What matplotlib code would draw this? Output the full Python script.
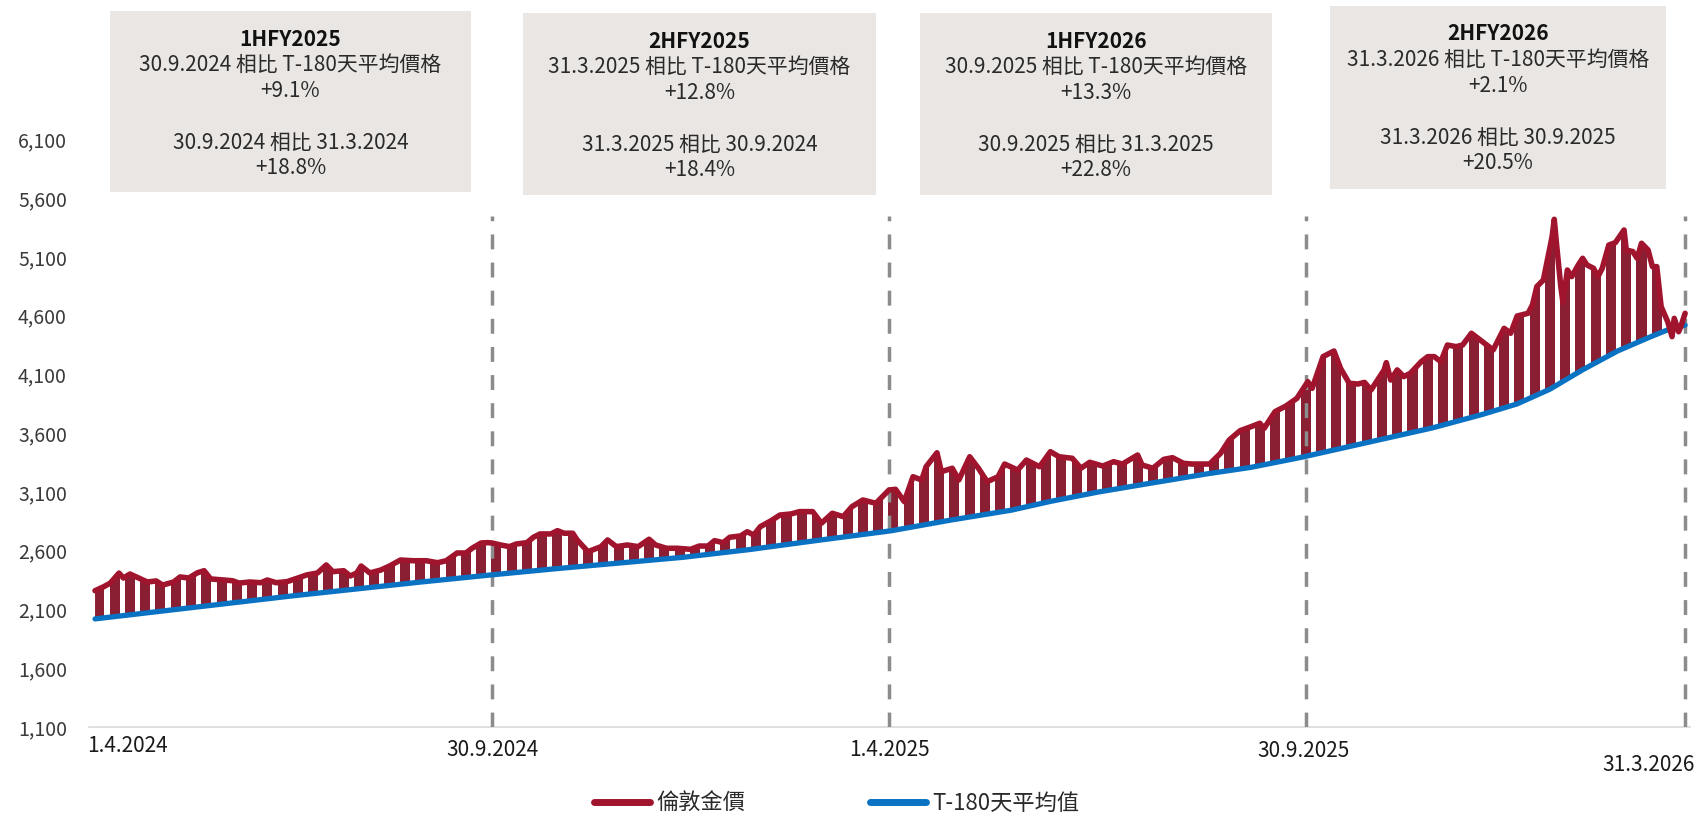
import numpy as np
import matplotlib
matplotlib.use("Agg")
import matplotlib.pyplot as plt
from matplotlib.patches import Rectangle
from matplotlib.lines import Line2D

plt.rcParams['font.family'] = ['Noto Sans CJK TC', 'DejaVu Sans']

# days counted from 1.4.2024
gold_days = [0, 4, 7, 11, 13, 16, 20, 24, 28, 31,
             36, 39, 43, 47, 50, 53, 59, 63, 66, 71,
             76, 79, 83, 88, 93, 97, 102, 106, 109, 114,
             117, 120, 122, 126, 131, 135, 140, 146, 152, 157,
             161, 166, 170, 173, 177, 180, 182, 186, 190, 193,
             198, 201, 204, 209, 212, 215, 219, 221, 226, 232,
             235, 239, 244, 249, 254, 257, 262, 267, 273, 277,
             281, 284, 288, 291, 296, 299, 302, 305, 310, 314,
             319, 323, 329, 333, 338, 343, 347, 352, 358, 364,
             367, 371, 375, 379, 381, 386, 388, 393, 396, 401,
             405, 409, 414, 417, 423, 427, 433, 438, 442, 448,
             452, 456, 462, 467, 471, 478, 480, 485, 490, 494,
             499, 503, 508, 511, 516, 520, 525, 530, 534, 536,
             541, 546, 551, 556, 558, 563, 568, 571, 575, 579,
             582, 585, 591, 592, 594, 597, 600, 603, 608, 611,
             614, 617, 620, 624, 627, 631, 635, 639, 641, 646,
             649, 652, 657, 659, 661, 664, 666, 668, 669, 670,
             672, 673, 675, 677, 680, 682, 684, 687, 689, 691,
             694, 697, 701, 702, 705, 707, 709, 712, 714, 716,
             718, 721, 723, 724, 726, 727, 729]
gold_price = [2260, 2294, 2325, 2410, 2368, 2402, 2368, 2334, 2343, 2308,
              2334, 2377, 2368, 2413, 2430, 2360, 2351, 2345, 2325, 2334,
              2328, 2351, 2328, 2337, 2368, 2394, 2411, 2479, 2422, 2430,
              2385, 2411, 2470, 2411, 2436, 2470, 2521, 2515, 2515, 2498,
              2515, 2581, 2581, 2623, 2666, 2669, 2666, 2649, 2635, 2657,
              2669, 2715, 2743, 2743, 2771, 2749, 2749, 2692, 2592, 2635,
              2692, 2635, 2649, 2635, 2698, 2649, 2621, 2621, 2612, 2640,
              2640, 2686, 2669, 2715, 2726, 2762, 2734, 2805, 2856, 2904,
              2913, 2933, 2933, 2834, 2919, 2890, 2975, 3032, 3004, 3117,
              3123, 3018, 3230, 3202, 3315, 3434, 3273, 3302, 3202, 3400,
              3302, 3188, 3230, 3338, 3287, 3372, 3315, 3443, 3400, 3387,
              3302, 3353, 3321, 3358, 3338, 3415, 3330, 3302, 3378, 3392,
              3344, 3338, 3338, 3338, 3429, 3543, 3622, 3656, 3685, 3642,
              3784, 3832, 3897, 4039, 3982, 4252, 4300, 4153, 4025, 4019,
              4033, 3968, 4139, 4201, 4053, 4139, 4082, 4110, 4209, 4252,
              4252, 4209, 4351, 4337, 4351, 4451, 4394, 4337, 4309, 4493,
              4451, 4598, 4621, 4692, 4848, 4904, 5089, 5273, 5421, 5217,
              4848, 4711, 4989, 4933, 5032, 5089, 5032, 5004, 4933, 5004,
              5202, 5222, 5330, 5160, 5146, 5089, 5217, 5160, 5018, 5018,
              4677, 4550, 4422, 4578, 4464, 4507, 4621]

avg_days = [0, 30, 60, 90, 120, 150, 182, 210, 240, 270, 300, 330, 365,
            392, 420, 438, 460, 484, 510, 530, 553, 583, 613, 636, 652,
            667, 682, 698, 713, 721, 729]
avg_price = [2020, 2085, 2150, 2215, 2275, 2335, 2395, 2445, 2495, 2545,
             2610, 2685, 2770, 2860, 2945, 3020, 3100, 3175, 3255, 3310,
             3395, 3520, 3645, 3760, 3850, 3975, 4140, 4300, 4420, 4480, 4520]

period_names = ['1HFY2025', '2HFY2025', '1HFY2026', '2HFY2026']
period_end = ['30.9.2024', '31.3.2025', '30.9.2025', '31.3.2026']
period_prev = ['31.3.2024', '30.9.2024', '31.3.2025', '30.9.2025']
vs_avg = ['+9.1%', '+12.8%', '+13.3%', '+2.1%']
vs_prev = ['+18.8%', '+18.4%', '+22.8%', '+20.5%']

divider_day = [182, 364, 555, 729]
x_labels = ['1.4.2024', '30.9.2024', '1.4.2025', '30.9.2025', '31.3.2026']
y_ticks = list(range(1100, 6101, 500))

RED = '#A0142D'
FILL = '#8A1F33'
BLUE = '#0A72C2'
GREY = '#8C8C8C'
BOX = '#E9E6E4'

W, H = 1700, 814
fig = plt.figure(figsize=(W / 100, H / 100), dpi=100)


def fx(px):
    return px / W


def fy(py):
    return 1 - py / H


ax = fig.add_axes([fx(88.5), 87 / H, 1601 / W, 587.5 / H])
ax.set_xlim(-3, 731)
ax.set_ylim(1100, 6100)

# shaded gap between price and average
poly_x = np.concatenate([gold_days, avg_days[::-1]])
poly_y = np.concatenate([gold_price, avg_price[::-1]])
ax.fill(poly_x, poly_y, color=FILL, lw=0, zorder=2)
# weekends leave white gaps between the daily drop lines
weeks = np.arange(0, 105) * 7
ax.broken_barh([(w + 4.3, 2.4) for w in weeks], (1100, 5000),
               facecolors='white', lw=0, zorder=2.1)

ax.vlines(divider_day, 1100, 5450, colors=GREY, linestyles=(0, (4.3, 3.8)),
          lw=2.5, zorder=2.6)

ax.plot(avg_days, avg_price, color=BLUE, lw=3.8, zorder=3,
        solid_capstyle='round', solid_joinstyle='round')
ax.plot(gold_days, gold_price, color=RED, lw=4.0, zorder=4,
        solid_capstyle='round', solid_joinstyle='round')

for s in ['top', 'right', 'left']:
    ax.spines[s].set_visible(False)
ax.spines['bottom'].set_color('#D9D9D9')
ax.spines['bottom'].set_linewidth(1.2)
ax.spines['bottom'].set_zorder(2.5)

ax.set_yticks(y_ticks)
ax.set_yticklabels([f'{v:,}' for v in y_ticks])
ax.tick_params(axis='y', length=0, pad=15.5, labelsize=14, labelcolor='#3A3A3A')
ax.set_xticks([])

# date labels under the axis
label_pos = [(-3.7, 746, 'left'), (182, 750, 'center'), (364, 750, 'center'),
             (554, 751, 'center'), (733.5, 765, 'right')]
for lab, (d, py, ha) in zip(x_labels, label_pos):
    ax.text(d, (727 - py) / 587.5, lab, transform=ax.get_xaxis_transform(),
            ha=ha, va='center', fontsize=15, color='#1A1A1A', clip_on=False)

# info boxes
boxes = [(110, 11, 471, 192), (523, 13, 876, 195),
         (920, 13, 1272, 195), (1330, 6, 1666, 189)]
for i, (x0, y0, x1, y1) in enumerate(boxes):
    fig.patches.append(Rectangle((fx(x0), fy(y1)), fx(x1 - x0), (y1 - y0) / H,
                                 transform=fig.transFigure, facecolor=BOX,
                                 edgecolor='none', zorder=5))
    cx = fx((x0 + x1) / 2)
    lines = [f'{period_end[i]} 相比 T-180天平均價格', vs_avg[i], '',
             f'{period_end[i]} 相比 {period_prev[i]}', vs_prev[i]]
    fig.text(cx, fy(y0 + 28), period_names[i], ha='center', va='center',
             fontsize=15, fontweight='bold', color='#111111', zorder=6)
    for j, txt in enumerate(lines):
        if txt:
            fig.text(cx, fy(y0 + 54 + j * 25.8), txt, ha='center', va='center',
                     fontsize=15, color='#2A2A2A', zorder=6)

handles = [Line2D([], [], color=RED, lw=5, solid_capstyle='round'),
           Line2D([], [], color=BLUE, lw=5, solid_capstyle='round')]
fig.legend(handles, ['倫敦金價', 'T-180天平均值'], loc='center',
           bbox_to_anchor=(fx(837), fy(803)), ncol=2, frameon=False,
           fontsize=16, handlelength=2.5, handletextpad=0.3,
           columnspacing=5.6, labelcolor='#2A2A2A')

fig.savefig('out.png', dpi=100, facecolor='white')
